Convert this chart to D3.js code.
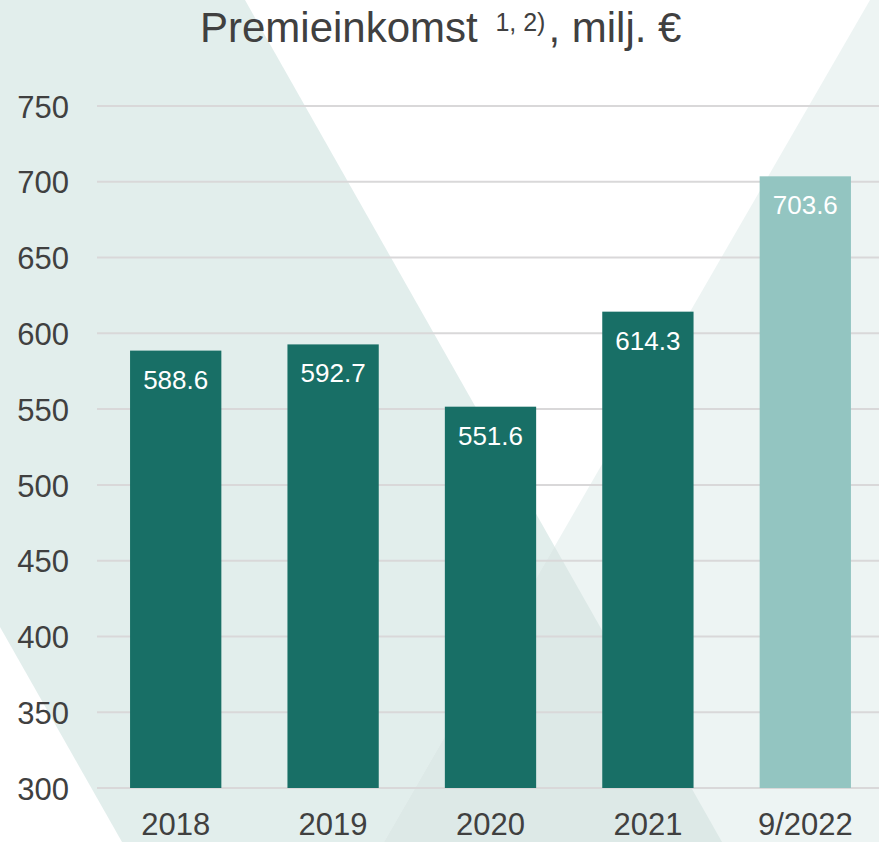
<!DOCTYPE html>
<html><head><meta charset="utf-8">
<script src="https://cdn.jsdelivr.net/npm/d3@7"></script>
<style>body{margin:0;background:#fff}svg{display:block;font-family:"Liberation Sans",Arial,sans-serif}</style>
</head><body><svg id="c" width="879" height="842"></svg>
<script>
const categories = ["2018","2019","2020","2021","9/2022"];
const values = [588.6, 592.7, 551.6, 614.3, 703.6];
const barColors = ["#186f66","#186f66","#186f66","#186f66","#93c5c1"];
const yTicks = [300,350,400,450,500,550,600,650,700,750];

const svg = d3.select("#c");
const W = 879, H = 842;

// background decorative shapes
const L1 = [[245,0],[722,842]];   // left shape right edge
const R1 = [[870,0],[384,842]];   // right shape left edge
function inter(a,b){
  const [x1,y1]=a[0],[x2,y2]=a[1],[x3,y3]=b[0],[x4,y4]=b[1];
  const d=(x1-x2)*(y3-y4)-(y1-y2)*(x3-x4);
  const t=((x1-x3)*(y3-y4)-(y1-y3)*(x3-x4))/d;
  return [x1+t*(x2-x1), y1+t*(y2-y1)];
}
const P = inter(L1,R1);
svg.append("polygon").attr("points",[[0,0],L1[0],L1[1],[122,842],[0,627]].join(" "))
  .attr("fill","#e2eeec");
svg.append("polygon").attr("points",[R1[0],[W,0],[W,H],R1[1]].join(" "))
  .attr("fill","#edf4f3");
svg.append("polygon").attr("points",[P,L1[1],R1[1]].join(" "))
  .attr("fill","#dde9e7");

const x = d3.scaleBand().domain(categories).range([97, 884]).paddingInner(0.42).paddingOuter(0.21);
const y = d3.scaleLinear().domain([300, 750]).range([788, 106]);

// gridlines
svg.append("g").selectAll("line").data(yTicks).join("line")
  .attr("x1", 97).attr("x2", W)
  .attr("y1", d => y(d)).attr("y2", d => y(d))
  .attr("stroke", "#d9d8d9").attr("stroke-width", 2);

// y axis labels
const yAxis = d3.axisLeft(y).tickValues(yTicks).tickSize(0).tickPadding(0);
const gy = svg.append("g").attr("transform","translate(69,0)").call(yAxis);
gy.select(".domain").remove();
gy.selectAll("text").attr("font-size", 31).attr("fill", "#404040")
  .attr("font-family","Liberation Sans, Arial, sans-serif").attr("dy","0.36em");

// bars
svg.append("g").selectAll("rect").data(values).join("rect")
  .attr("x", (d,i) => x(categories[i]))
  .attr("width", x.bandwidth())
  .attr("y", d => y(d))
  .attr("height", d => y(300) - y(d))
  .attr("fill", (d,i) => barColors[i]);

// value labels
svg.append("g").selectAll("text").data(values).join("text")
  .attr("x", (d,i) => x(categories[i]) + x.bandwidth()/2)
  .attr("y", d => y(d) + 38)
  .attr("text-anchor","middle")
  .attr("font-size", 26).attr("fill","#ffffff")
  .text(d => d.toFixed(1));

// x axis labels
const xAxis = d3.axisBottom(x).tickSize(0).tickPadding(0);
const gx = svg.append("g").attr("transform","translate(0,835)").call(xAxis);
gx.select(".domain").remove();
gx.selectAll("text").attr("font-size", 31).attr("fill","#404040")
  .attr("font-family","Liberation Sans, Arial, sans-serif").attr("y",0).attr("dy","0");

// title
const t = svg.append("text").attr("x", 200).attr("y", 42).attr("text-anchor","start")
  .attr("font-size", 42).attr("fill","#404040");
t.append("tspan").text("Premieinkomst ");
t.append("tspan").attr("font-size", 25).attr("dx", 6).attr("dy", -11).text("1, 2)");
t.append("tspan").attr("dx", 3).attr("dy", 11).text(", milj. €");
</script></body></html>
